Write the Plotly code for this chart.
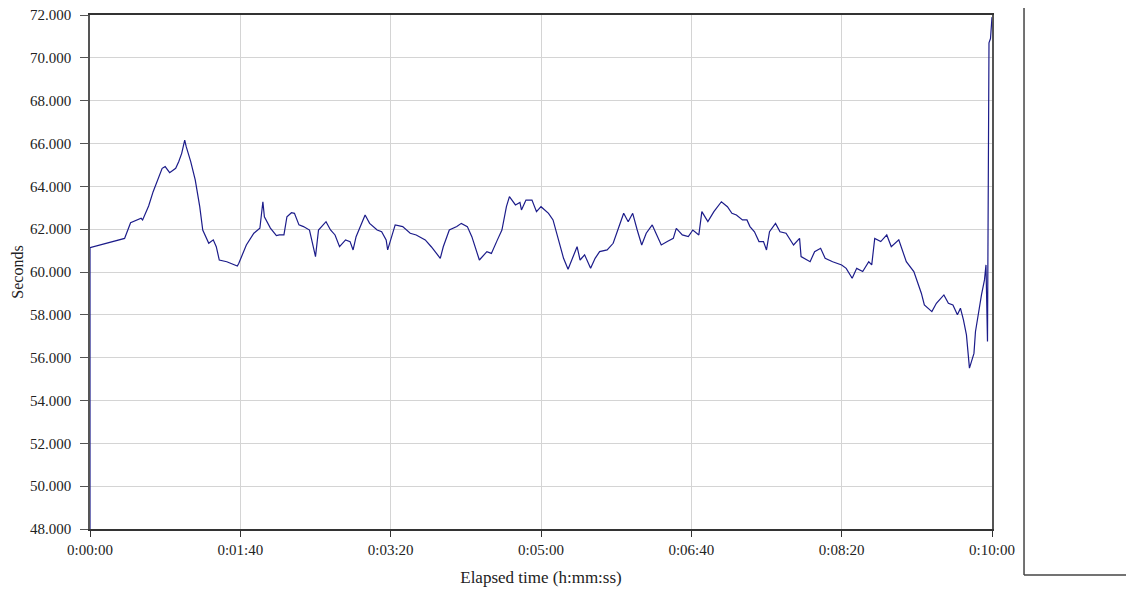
import plotly.graph_objects as go

# Elapsed time (seconds) and lap time values (seconds)
elapsed_s = [0, 0, 23, 27, 34, 35, 39, 42, 48, 50, 53, 57, 59, 61, 63, 64, 67, 70, 73, 75, 79, 82, 84, 86, 91, 98, 99,
             102, 104, 109, 113, 115, 116, 120, 124, 126, 129, 131, 134, 136, 139, 142, 146, 150, 152, 157, 160, 163,
             166, 170, 173, 175, 177, 183, 186, 191, 194, 197, 198, 203, 208, 213, 217, 223, 227, 233, 235, 239, 244,
             247, 251, 254, 257, 259, 264, 267, 271, 274, 277, 279, 283, 286, 287, 290, 294, 297, 300, 305, 308, 312,
             315, 318, 320, 324, 326, 329, 333, 336, 339, 344, 348, 351, 355, 358, 361, 364, 367, 370, 374, 377, 380,
             384, 388, 390, 394, 398, 401, 405, 407, 411, 415, 420, 424, 427, 430, 434, 437, 439, 442, 445, 448, 450,
             452, 456, 459, 463, 468, 472, 473, 479, 482, 486, 489, 494, 500, 503, 507, 510, 514, 518, 520, 522, 526,
             530, 533, 538, 541, 543, 548, 550, 553, 555, 560, 563, 568, 571, 574, 577, 579, 581, 583, 585, 588, 589,
             591, 593, 595, 596, 597, 598, 599, 600]
lap_seconds = [48.0, 61.14, 61.57, 62.30, 62.51, 62.43, 63.08, 63.75, 64.84, 64.92, 64.64, 64.84, 65.15, 65.54, 66.16,
               65.85, 65.15, 64.30, 63.05, 61.96, 61.34, 61.50, 61.18, 60.56, 60.48, 60.28, 60.41, 60.88, 61.26, 61.81,
               62.04, 63.28, 62.58, 62.05, 61.70, 61.73, 61.73, 62.58, 62.77, 62.74, 62.20, 62.12, 61.96, 60.72, 61.96,
               62.35, 61.96, 61.73, 61.18, 61.50, 61.42, 61.03, 61.65, 62.66, 62.27, 61.96, 61.88, 61.50, 61.03, 62.20,
               62.12, 61.81, 61.73, 61.50, 61.18, 60.64, 61.18, 61.96, 62.12, 62.27, 62.12, 61.65, 60.95, 60.56, 60.95,
               60.87, 61.50, 61.96, 63.05, 63.52, 63.13, 63.25, 62.90, 63.36, 63.36, 62.82, 63.05, 62.74, 62.43, 61.34,
               60.64, 60.13, 60.48, 61.18, 60.56, 60.80, 60.17, 60.64, 60.95, 61.03, 61.34, 61.96, 62.74, 62.35, 62.74,
               61.96, 61.26, 61.81, 62.20, 61.73, 61.26, 61.42, 61.57, 62.04, 61.73, 61.65, 61.96, 61.73, 62.82, 62.35,
               62.82, 63.28, 63.05, 62.74, 62.66, 62.43, 62.43, 62.12, 61.88, 61.42, 61.42, 61.03, 61.88, 62.27, 61.88,
               61.81, 61.26, 61.57, 60.72, 60.48, 60.95, 61.11, 60.64, 60.48, 60.33, 60.17, 59.71, 60.17, 60.02, 60.48,
               60.33, 61.57, 61.42, 61.73, 61.18, 61.50, 60.87, 60.48, 60.02, 59.63, 59.01, 58.46, 58.15, 58.54, 58.93,
               58.54, 58.46, 58.00, 58.31, 57.76, 57.06, 55.51, 56.20, 57.21, 58.15, 58.93, 59.63, 60.33, 56.75, 70.7,
               70.9, 71.9]

x_tick_vals = [0, 100, 200, 300, 400, 500, 600]
x_tick_text = ["0:00:00", "0:01:40", "0:03:20", "0:05:00", "0:06:40", "0:08:20", "0:10:00"]
y_tick_vals = [48, 50, 52, 54, 56, 58, 60, 62, 64, 66, 68, 70, 72]
y_tick_text = ["%.3f" % v for v in y_tick_vals]

font_family = "Liberation Serif"

fig = go.Figure()
fig.add_trace(go.Scatter(
    x=elapsed_s, y=lap_seconds, mode="lines",
    line=dict(color="#1c1c8a", width=1.2),
    showlegend=False, hoverinfo="skip",
))

fig.update_layout(
    width=1126, height=581,
    margin=dict(l=82, r=142, t=7, b=60, autoexpand=False),
    paper_bgcolor="white", plot_bgcolor="white",
    font=dict(family=font_family, color="#222222", size=15),
    xaxis=dict(
        range=[0, 600], tickvals=x_tick_vals, ticktext=x_tick_text,
        showgrid=True, gridcolor="#d4d4d4", gridwidth=1,
        showline=True, linecolor="#333333", linewidth=1.5, mirror=True,
        ticks="outside", ticklen=6, tickcolor="#333333",
        zeroline=False, automargin=False, ticklabeloverflow="allow",
        title=dict(text="Elapsed time (h:mm:ss)", font=dict(size=17, family=font_family), standoff=14),
        tickfont=dict(size=15, family=font_family),
    ),
    yaxis=dict(
        range=[48, 72], tickvals=y_tick_vals, ticktext=y_tick_text,
        showgrid=True, gridcolor="#d4d4d4", gridwidth=1,
        showline=True, linecolor="#555555", linewidth=1.5, mirror=True,
        ticks="outside", ticklen=8, tickcolor="#555555",
        zeroline=False, automargin=False, ticklabelstandoff=6, ticklabeloverflow="allow",
        title=dict(text="Seconds", font=dict(size=16, family=font_family), standoff=2),
        tickfont=dict(size=15, family=font_family),
    ),
)

# Legend frame at right (partially outside view)
fig.add_shape(type="line", xref="paper", yref="paper",
              x0=1.0355, x1=1.0355, y0=-0.0895, y1=1.05,
              line=dict(color="#444444", width=1.5))
fig.add_shape(type="line", xref="paper", yref="paper",
              x0=1.0355, x1=1.2, y0=-0.0895, y1=-0.0895,
              line=dict(color="#444444", width=1.5))

fig.write_html("out.html")
